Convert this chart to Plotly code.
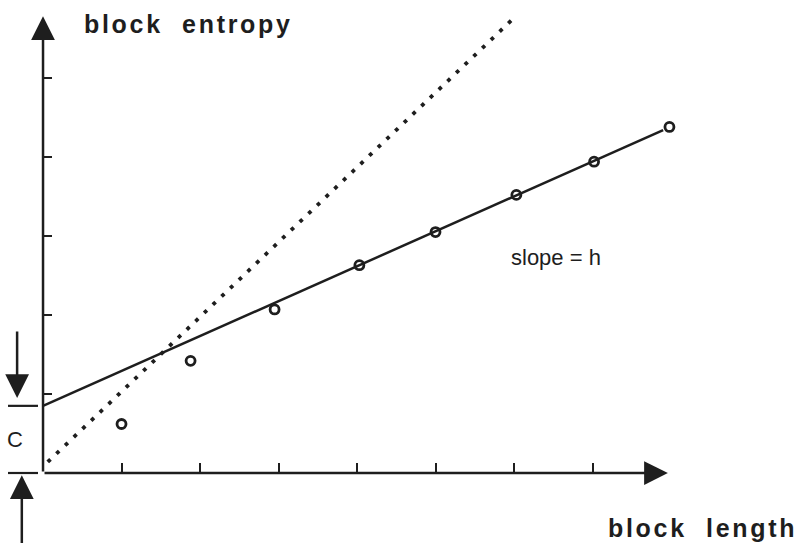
import plotly.graph_objects as go

# ---- data ----
BLOCK_LENGTH = [1.0, 1.88, 2.95, 4.03, 5.0, 6.03, 7.02, 7.98]
BLOCK_ENTROPY = [0.62, 1.42, 2.07, 2.63, 3.05, 3.52, 3.94, 4.38]
FIT_X = [0.0, 7.9]          # asymptotic line, slope = h, intercept = C
FIT_Y = [0.85, 4.34]
DOT_X = [0.06, 6.01]        # dotted reference line
DOT_Y = [0.14, 5.77]
X_TICKS = [1, 2, 3, 4, 5, 6, 7]
Y_TICKS = [1, 2, 3, 4, 5]
C_VALUE = 0.85

INK = "#1e1e1e"
X_RANGE = [-0.548, 9.656]
Y_RANGE = [-0.886, 5.987]

fig = go.Figure()

fig.add_trace(go.Scatter(x=DOT_X, y=DOT_Y, mode="lines",
                         line=dict(color=INK, width=3.8, dash="3.8px,8.2px"),
                         hoverinfo="skip", showlegend=False))
fig.add_trace(go.Scatter(x=FIT_X, y=FIT_Y, mode="lines",
                         line=dict(color=INK, width=2.5),
                         hoverinfo="skip", showlegend=False))
fig.add_trace(go.Scatter(x=BLOCK_LENGTH, y=BLOCK_ENTROPY, mode="markers",
                         marker=dict(symbol="circle-open", size=9,
                                     color=INK, line=dict(width=2.8, color=INK)),
                         showlegend=False))

x_pos = (0 - X_RANGE[0]) / (X_RANGE[1] - X_RANGE[0])
y_pos = (0 - Y_RANGE[0]) / (Y_RANGE[1] - Y_RANGE[0])

fig.update_layout(
    width=801, height=543,
    margin=dict(l=0, r=0, t=0, b=0),
    paper_bgcolor="white", plot_bgcolor="white",
    xaxis=dict(range=X_RANGE, showgrid=False, zeroline=False, showline=False,
               tickvals=X_TICKS, ticks="inside", ticklen=10, tickwidth=2.4,
               tickcolor=INK, showticklabels=False,
               anchor="free", position=y_pos, fixedrange=True),
    yaxis=dict(range=Y_RANGE, showgrid=False, zeroline=False, showline=False,
               tickvals=Y_TICKS, ticks="inside", ticklen=8, tickwidth=2.4,
               tickcolor=INK, showticklabels=False,
               anchor="free", position=x_pos, fixedrange=True),
)

def arrow(x0, y0, x1, y1):
    fig.add_annotation(x=x1, y=y1, ax=x0, ay=y0, xref="x", yref="y",
                       axref="x", ayref="y", text="", showarrow=True,
                       arrowhead=2, arrowsize=1.9, arrowwidth=2.5,
                       arrowcolor=INK, standoff=0, startstandoff=0)

# axes with arrowheads
arrow(0, 0, 7.96, 0)
arrow(0, 0, 0, 5.78)
# C markers
arrow(-0.33, 1.81, -0.33, 0.95)
arrow(-0.27, -0.95, -0.27, -0.03)
for yv in [C_VALUE, 0]:
    fig.add_shape(type="line", x0=-0.446, x1=-0.064, y0=yv, y1=yv,
                  xref="x", yref="y", line=dict(color=INK, width=2.2))

FAMILY = "Liberation Sans, Arial, sans-serif"
font_b = dict(family=FAMILY, size=25, color=INK)
font_r = dict(family=FAMILY, size=22, color=INK)

def spaced(a, b):
    return ('<span style="letter-spacing:2.7px"><b>' + a + "\u00a0\u00a0" + b
            + "</b></span>")

fig.add_annotation(x=0.497, y=5.68, xref="x", yref="y", xanchor="left",
                   yanchor="middle", text=spaced("block", "entropy"),
                   showarrow=False, font=font_b)
fig.add_annotation(x=7.17, y=-0.70, xref="x", yref="y", xanchor="left",
                   yanchor="middle", text=spaced("block", "length"),
                   showarrow=False, font=font_b)
fig.add_annotation(x=5.93, y=2.73, xref="x", yref="y", xanchor="left",
                   yanchor="middle", text="slope = h",
                   showarrow=False, font=font_r)
fig.add_annotation(x=-0.357, y=C_VALUE / 2, xref="x", yref="y",
                   xanchor="center", yanchor="middle", text="C",
                   showarrow=False, font=dict(family=FAMILY, size=22, color=INK))

fig.write_html("out.html")
